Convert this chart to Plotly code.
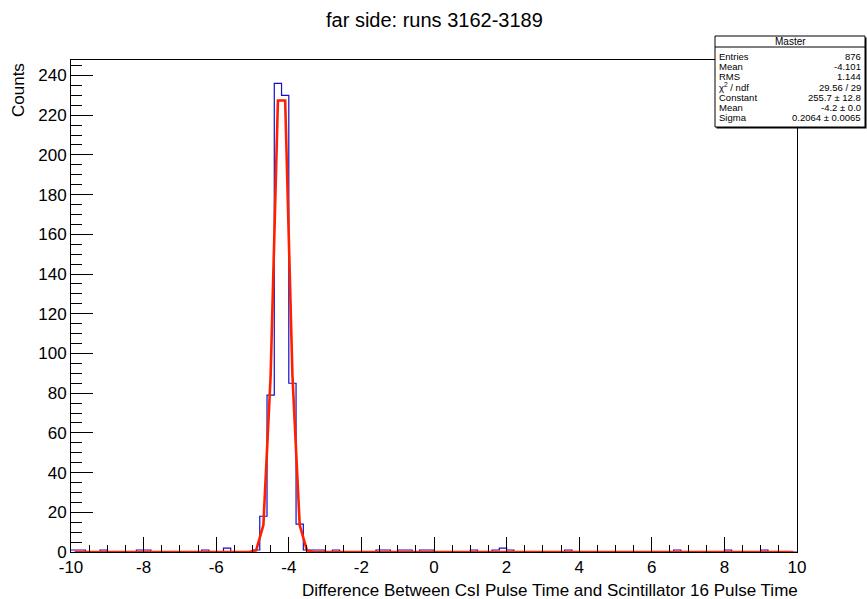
import plotly.graph_objects as go

# ---------------- data ----------------
x_min, x_max, n_bins = -10.0, 10.0, 100
bin_edges = [round(x_min + i * (x_max - x_min) / n_bins, 4) for i in range(n_bins + 1)]
bin_centers = [round((bin_edges[i] + bin_edges[i + 1]) / 2, 4) for i in range(n_bins)]

counts = [
    1, 1, 0, 0, 1, 0, 0, 0, 0, 1,      # -10.0 .. -8.2
    1, 0, 0, 0, 0, 0, 0, 0, 1, 0,      # -8.0 .. -6.2
    0, 2, 0, 0, 0, 1, 18, 79, 236, 230,  # -6.0 .. -4.2
    85, 14, 1, 1, 1, 0, 1, 0, 0, 0,    # -4.0 .. -2.2
    0, 0, 1, 1, 0, 1, 1, 0, 1, 1,      # -2.0 .. -0.2
    0, 0, 0, 0, 0, 1, 0, 0, 1, 2,      # 0.0 .. 1.8
    1, 0, 0, 0, 0, 0, 0, 0, 1, 0,      # 2.0 .. 3.8
    0, 0, 0, 0, 0, 0, 0, 0, 0, 0,      # 4.0 .. 5.8
    0, 0, 0, 1, 0, 0, 0, 0, 0, 0,      # 6.0 .. 7.8
    1, 0, 0, 0, 0, 1, 0, 0, 0, 0,      # 8.0 .. 9.8
]

# Gaussian fit curve values read at bin centres (zero elsewhere)
fit_values = [0.0] * n_bins
fit_peak = {25: 0.8, 26: 13.6, 27: 89.0, 28: 227.4, 29: 227.4, 30: 89.0, 31: 13.6, 32: 0.8}
for k, v in fit_peak.items():
    fit_values[k] = v

title_text = "far side: runs 3162-3189"
x_title = "Difference Between CsI Pulse Time and Scintillator 16 Pulse Time"
y_title = "Counts"
stats_title = "Master"
stats_labels = ["Entries", "Mean", "RMS", "χ<sup>2</sup> / ndf", "Constant", "Mean", "Sigma"]
stats_values = ["876", "-4.101", "1.144", "29.56 / 29", "255.7 ± 12.8", "-4.2 ± 0.0", "0.2064 ± 0.0065"]

y_max = 247.8

# ---------------- layout geometry ----------------
W, H = 867, 599
L, R, T, B = 71, 797, 60, 552  # plot frame in pixels


def px(xp):
    return (xp - L) / (R - L)


def py(yp):
    return (B - yp) / (B - T)


FONT = "Liberation Sans, Arial, Helvetica, sans-serif"

fig = go.Figure()

# histogram outline (step)
hx = bin_edges[:]
hy = counts + [counts[-1]]
fig.add_trace(go.Scatter(x=hx, y=hy, mode="lines", line=dict(color="#1010c8", width=1.2, shape="hv"),
                         hoverinfo="skip", showlegend=False))
# fit curve
fig.add_trace(go.Scatter(x=bin_centers, y=fit_values, mode="lines",
                         line=dict(color="#ff2000", width=2.6), hoverinfo="skip", showlegend=False))

fig.update_layout(
    width=W, height=H,
    margin=dict(l=L, r=W - R, t=T, b=H - B),
    paper_bgcolor="white", plot_bgcolor="white",
    font=dict(family=FONT, size=17, color="black"),
    showlegend=False,
)

fig.update_xaxes(
    range=[x_min, x_max], showgrid=False, zeroline=False,
    tickmode="array", tickvals=[-10, -8, -6, -4, -2, 0, 2, 4, 6, 8, 10],
    ticktext=["-10", "-8", "-6", "-4", "-2", "0", "2", "4", "6", "8", "10"],
    ticks="inside", ticklen=15, tickwidth=1, tickcolor="black",
    minor=dict(dtick=0.5, tick0=0, ticks="inside", ticklen=7, tickwidth=1, tickcolor="black"),
    showline=True, linecolor="black", linewidth=1, mirror=True,
    tickfont=dict(size=17, family=FONT),
)
fig.update_yaxes(
    range=[0, y_max], showgrid=False, zeroline=False,
    dtick=20, tick0=0,
    ticks="inside", ticklen=22, tickwidth=1, tickcolor="black",
    minor=dict(dtick=5, tick0=0, ticks="inside", ticklen=11, tickwidth=1, tickcolor="black"),
    showline=True, linecolor="black", linewidth=1, mirror=True,
    tickfont=dict(size=17, family=FONT),
)

annotations = []
annotations.append(dict(text=title_text, xref="paper", yref="paper", x=px(434), y=py(20),
                        xanchor="center", yanchor="middle", showarrow=False,
                        font=dict(size=20, family=FONT)))
annotations.append(dict(text=x_title, xref="paper", yref="paper", x=px(800), y=py(590),
                        xanchor="right", yanchor="middle", showarrow=False,
                        font=dict(size=17, family=FONT)))
annotations.append(dict(text=y_title, xref="paper", yref="paper", x=px(18), y=py(61),
                        xanchor="center", yanchor="top", textangle=-90, showarrow=False,
                        font=dict(size=17, family=FONT)))

# stats box
bx0, bx1, by0, by1 = 715, 865, 36, 127
shapes = [
    dict(type="rect", xref="paper", yref="paper", x0=px(bx0 + 1.5), x1=px(bx1 + 1.5),
         y0=py(by1 + 1.5), y1=py(by0 + 1.5), line=dict(color="black", width=0), fillcolor="black", layer="above"),
    dict(type="rect", xref="paper", yref="paper", x0=px(bx0), x1=px(bx1), y0=py(by1), y1=py(by0),
         line=dict(color="black", width=1), fillcolor="white", layer="above"),
    dict(type="line", xref="paper", yref="paper", x0=px(bx0), x1=px(bx1), y0=py(47), y1=py(47),
         line=dict(color="black", width=1), layer="above"),
]
annotations.append(dict(text=stats_title, xref="paper", yref="paper", x=px((bx0 + bx1) / 2), y=py(41.5),
                        xanchor="center", yanchor="middle", showarrow=False, font=dict(size=10, family=FONT)))
row_y = [56, 66, 76.5, 87, 97, 107, 117.5]
for lab, val, yy in zip(stats_labels, stats_values, row_y):
    annotations.append(dict(text=lab, xref="paper", yref="paper", x=px(bx0 + 2), y=py(yy),
                            xanchor="left", yanchor="middle", showarrow=False, font=dict(size=9.5, family=FONT)))
    annotations.append(dict(text=val, xref="paper", yref="paper", x=px(bx1 - 2), y=py(yy),
                            xanchor="right", yanchor="middle", showarrow=False, font=dict(size=9.5, family=FONT)))

fig.update_layout(annotations=annotations, shapes=shapes)

fig.write_html("out.html", config={"displayModeBar": False},
               post_script="document.body.style.margin='0';document.body.style.overflow='hidden';")
